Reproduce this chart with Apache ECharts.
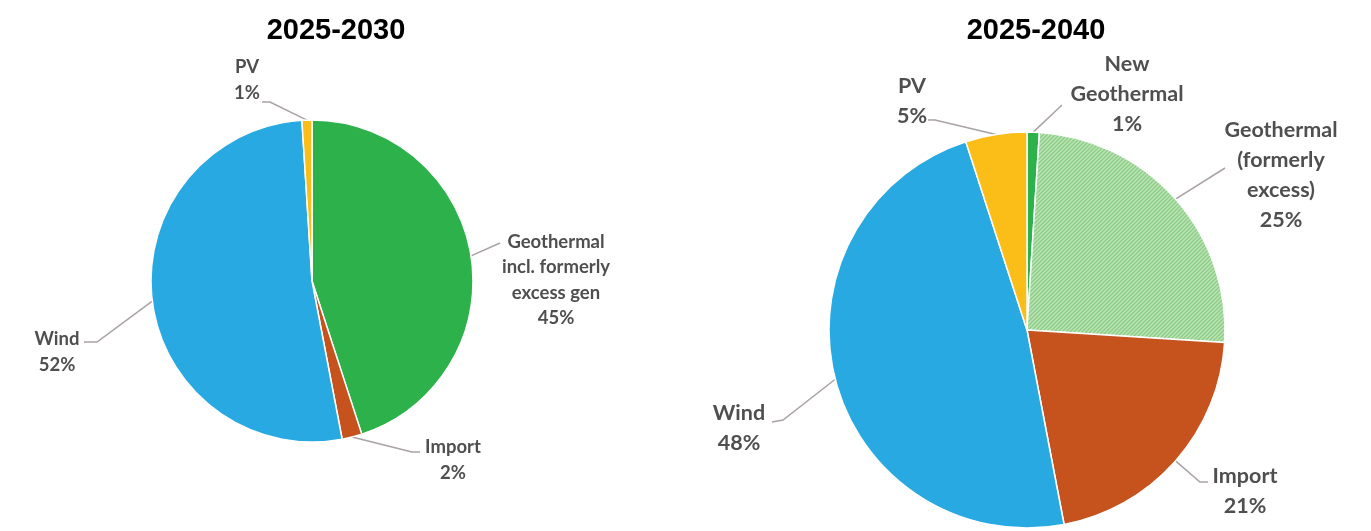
<!DOCTYPE html>
<html>
<head>
<meta charset="utf-8">
<script src="https://cdn.jsdelivr.net/npm/echarts@6/dist/echarts.min.js"></script>
<style>
  html, body { margin: 0; padding: 0; background: #ffffff; }
  #chart { width: 1371px; height: 531px; }
</style>
</head>
<body>
<div id="chart"></div>
<script>
// Generation mix shares (percent), slices run clockwise from 12 o'clock
const periodTitles = ['2025-2030', '2025-2040'];

const names2030  = ['Geothermal\nincl. formerly\nexcess gen', 'Import', 'Wind', 'PV'];
const shares2030 = [45, 2, 52, 1];

const names2040  = ['New\nGeothermal', 'Geothermal\n(formerly\nexcess)', 'Import', 'Wind', 'PV'];
const shares2040 = [1, 25, 21, 48, 5];

// Colours
const C_WIND = '#29a9e1';
const C_GEO = '#2db14b';
const C_IMPORT = '#c6521e';
const C_PV = '#fbbd18';

// Light green fill with fine diagonal hatching
function hatch(bg, fg, size) {
  const c = document.createElement('canvas');
  c.width = c.height = size;
  const g = c.getContext('2d');
  g.fillStyle = bg;
  g.fillRect(0, 0, size, size);
  g.strokeStyle = fg;
  g.lineWidth = 1.5;
  g.beginPath();
  g.moveTo(-1, size + 1); g.lineTo(size + 1, -1);
  g.moveTo(-1, 1); g.lineTo(1, -1);
  g.moveTo(size - 1, size + 1); g.lineTo(size + 1, size - 1);
  g.stroke();
  return c;
}
const C_GEO_HATCH = { image: hatch('#8acd84', '#bde3b7', 4), repeat: 'repeat' };

const colors2030 = [C_GEO, C_IMPORT, C_WIND, C_PV];
const colors2040 = [C_GEO, C_GEO_HATCH, C_IMPORT, C_WIND, C_PV];

// Label placement: text-block centre and leader-line bend points (page pixels)
const labelPlacement2030 = [
  { x: 556, y: 280, line: [[500, 243]] },
  { x: 453, y: 460, line: [[412, 452], [420, 452]] },
  { x: 57,  y: 352, line: [[97, 342], [84, 342]] },
  { x: 247, y: 80,  line: [[270, 102], [262, 102]] }
];
const labelPlacement2040 = [
  { x: 1127, y: 94,  line: [[1062, 105]] },
  { x: 1281, y: 175, line: [[1225, 168]] },
  { x: 1245, y: 491, line: [[1200, 482], [1208, 482]] },
  { x: 739,  y: 428, line: [[783, 420], [772, 422]] },
  { x: 912,  y: 101, line: [[935, 120], [928, 120]] }
];

function placeLabels(table) {
  return function (p) {
    const t = table[p.dataIndex];
    const start = (p.labelLinePoints && p.labelLinePoints[0]) || t.line[0];
    return {
      x: t.x,
      y: t.y,
      align: 'center',
      verticalAlign: 'middle',
      labelLinePoints: [start].concat(t.line)
    };
  };
}

function buildData(names, shares, colors) {
  return names.map((n, i) => ({ name: n, value: shares[i], itemStyle: { color: colors[i] } }));
}

function pieSeries(names, shares, colors, center, radius, fontSize, lineHeight, placement) {
  return {
    type: 'pie',
    center: center,
    radius: radius,
    startAngle: 90,
    clockwise: true,
    avoidLabelOverlap: false,
    silent: true,
    itemStyle: { borderColor: '#ffffff', borderWidth: 1.5 },
    label: {
      show: true,
      position: 'outside',
      formatter: p => p.name + '\n' + p.value + '%',
      color: '#4f4f4f',
      fontFamily: 'Lato',
      fontWeight: 'bold',
      fontSize: fontSize,
      lineHeight: lineHeight
    },
    labelLine: {
      show: true,
      length: 20,
      length2: 10,
      lineStyle: { color: '#aaa2a2', width: 1.5 }
    },
    labelLayout: placeLabels(placement),
    emphasis: { disabled: true },
    data: buildData(names, shares, colors)
  };
}

const chart = echarts.init(document.getElementById('chart'), null, { renderer: 'canvas' });
chart.setOption({
  animation: false,
  backgroundColor: '#ffffff',
  title: [
    { text: periodTitles[0], left: 331, top: 10, textAlign: 'center',
      textStyle: { fontFamily: 'Liberation Sans', fontWeight: 'bold', fontSize: 29, lineHeight: 32, color: '#000' } },
    { text: periodTitles[1], left: 1031, top: 10, textAlign: 'center',
      textStyle: { fontFamily: 'Liberation Sans', fontWeight: 'bold', fontSize: 29, lineHeight: 32, color: '#000' } }
  ],
  series: [
    pieSeries(names2030, shares2030, colors2030, [312, 281], 161, 18.5, 25.5, labelPlacement2030),
    pieSeries(names2040, shares2040, colors2040, [1027, 330], 198, 21.5, 30, labelPlacement2040)
  ]
});
</script>
</body>
</html>
